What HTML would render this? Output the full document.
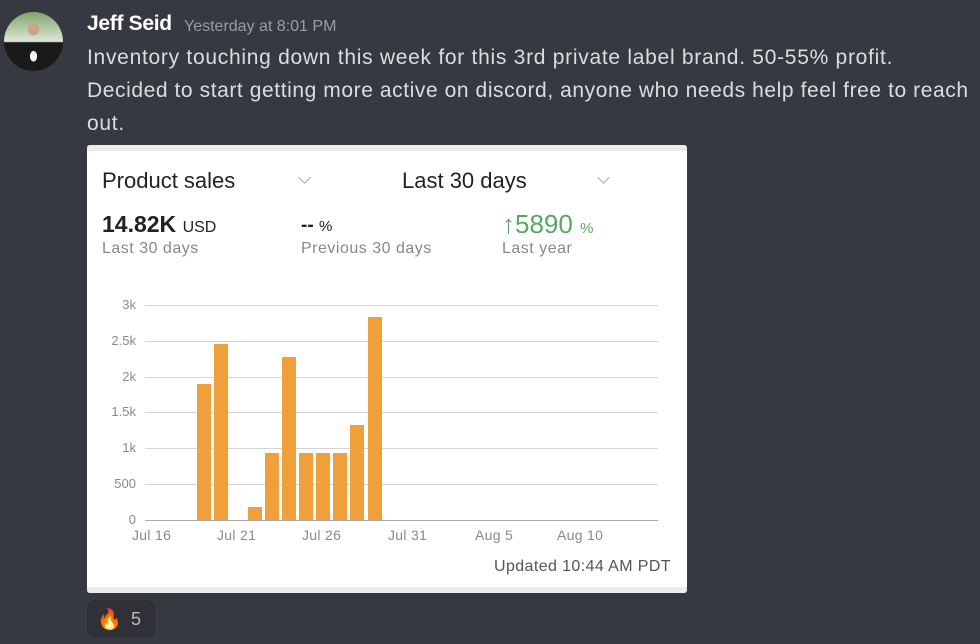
<!DOCTYPE html>
<html><head><meta charset="utf-8"><style>
*{margin:0;padding:0;box-sizing:border-box}
body{width:980px;height:644px;background:#36393f;position:relative;overflow:hidden;font-family:"Liberation Sans",sans-serif}
.a{position:absolute;white-space:nowrap}
.msg{color:#dcddde;font-size:21px;left:87px;letter-spacing:0.72px}
.card{position:absolute;left:87px;top:145px;width:600px;height:448px;background:#fff;border-radius:3px;overflow:hidden}
.card .a{color:#222}
.g{position:absolute;left:58px;width:513px;height:1px;background:#d4d4d4}
.yl{position:absolute;color:#8a8a8a;font-size:13px;text-align:right;width:40px;left:9px}
.xl{position:absolute;color:#8a8a8a;font-size:14px;top:382px;letter-spacing:0.3px}
.bar{position:absolute;width:14px;background:#f0a03a}
.chev{position:absolute;width:9px;height:9px;border-right:1.5px solid #aaa;border-bottom:1.5px solid #aaa;transform:rotate(45deg)}
.lbl{font-size:16px;color:#888!important;letter-spacing:0.5px}
</style></head><body>
<div style="position:absolute;left:4px;top:12px;width:59px;height:59px;border-radius:50%;background:radial-gradient(ellipse at 50% 75%,#f4f4f4 0 8%,transparent 9%),radial-gradient(circle at 50% 30%,#c9a58f 0 11%,transparent 12%),linear-gradient(#7fa56a,#dfe8d8 50%,#1a1a1a 52%,#1a1a1a);"></div>
<div class="a" style="left:87px;top:12px;color:#fff;font-size:21px;font-weight:bold;letter-spacing:-0.3px">Jeff Seid</div>
<div class="a" style="left:184px;top:18px;color:#9a9ca1;font-size:16px">Yesterday at 8:01 PM</div>
<div class="a msg" style="top:46px">Inventory touching down this week for this 3rd private label brand. 50-55% profit.</div>
<div class="a msg" style="top:79px;letter-spacing:0.58px">Decided to start getting more active on discord, anyone who needs help feel free to reach</div>
<div class="a msg" style="top:112px">out.</div>
<div class="card">
<div style="position:absolute;left:0;top:0;width:600px;height:6px;background:#ececec"></div>
<div style="position:absolute;left:0;top:442px;width:600px;height:6px;background:#ececec"></div>
<div class="a" style="left:15px;top:23px;font-size:22px">Product sales</div>
<div class="chev" style="left:213px;top:28px"></div>
<div class="a" style="left:315px;top:23px;font-size:22px">Last 30 days</div>
<div class="chev" style="left:512px;top:28px"></div>
<div class="a" style="left:15px;top:66px;font-size:23px;font-weight:bold;color:#222">14.82K <span style="font-size:16px;font-weight:normal">USD</span></div>
<div class="a lbl" style="left:15px;top:95px">Last 30 days</div>
<div class="a" style="left:214px;top:70px;font-size:19px;font-weight:bold">-- <span style="font-size:15px;font-weight:normal">%</span></div>
<div class="a lbl" style="left:214px;top:95px">Previous 30 days</div>
<div class="a" style="left:415px;top:64px;font-size:26px;color:#5aa862!important">↑5890 <span style="font-size:15px">%</span></div>
<div class="a lbl" style="left:415px;top:95px">Last year</div>
<div class="g" style="top:160px"></div><div class="yl" style="top:152px">3k</div>
<div class="g" style="top:196px"></div><div class="yl" style="top:188px">2.5k</div>
<div class="g" style="top:232px"></div><div class="yl" style="top:224px">2k</div>
<div class="g" style="top:267px"></div><div class="yl" style="top:259px">1.5k</div>
<div class="g" style="top:303px"></div><div class="yl" style="top:295px">1k</div>
<div class="g" style="top:339px"></div><div class="yl" style="top:331px">500</div>
<div class="g" style="top:375px;background:#aaa"></div><div class="yl" style="top:367px">0</div>
<div class="bar" style="left:110px;top:239px;height:136px"></div>
<div class="bar" style="left:127px;top:199px;height:176px"></div>
<div class="bar" style="left:161px;top:362px;height:13px"></div>
<div class="bar" style="left:178px;top:308px;height:67px"></div>
<div class="bar" style="left:195px;top:212px;height:163px"></div>
<div class="bar" style="left:212px;top:308px;height:67px"></div>
<div class="bar" style="left:229px;top:308px;height:67px"></div>
<div class="bar" style="left:246px;top:308px;height:67px"></div>
<div class="bar" style="left:263px;top:280px;height:95px"></div>
<div class="bar" style="left:281px;top:172px;height:203px"></div>
<div class="xl" style="left:45px">Jul 16</div>
<div class="xl" style="left:130px">Jul 21</div>
<div class="xl" style="left:215px">Jul 26</div>
<div class="xl" style="left:301px">Jul 31</div>
<div class="xl" style="left:388px">Aug 5</div>
<div class="xl" style="left:470px">Aug 10</div>
<div class="a" style="left:407px;top:413px;font-size:16px;letter-spacing:0.4px;color:#555!important">Updated 10:44 AM PDT</div>
</div>
<div style="position:absolute;left:87px;top:600px;width:68px;height:38px;border-radius:8px;background:#2f3136"></div>
<div class="a" style="left:97px;top:607px;font-size:20px">🔥</div>
<div class="a" style="left:131px;top:609px;font-size:18px;color:#b9bbbe">5</div>
</body></html>
